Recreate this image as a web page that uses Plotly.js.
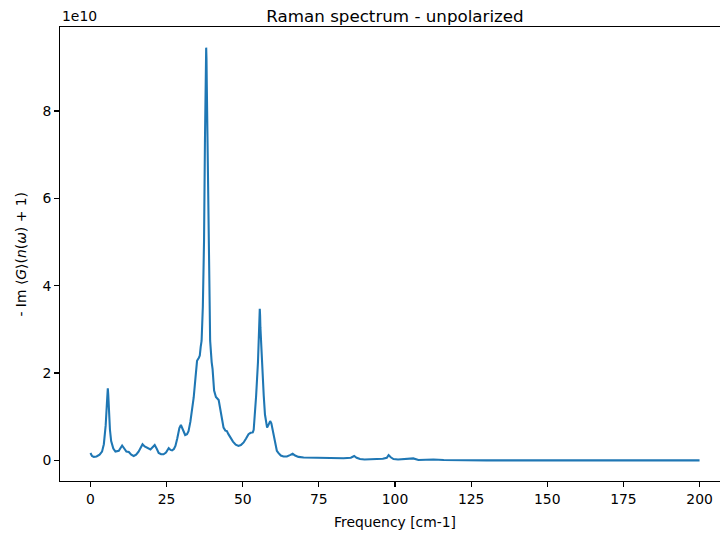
<!DOCTYPE html>
<html>
<head>
<meta charset="utf-8">
<script src="https://cdn.plot.ly/plotly-3.0.1.min.js"></script>
<style>
html, body { margin: 0; padding: 0; overflow: hidden; background: #fff; }
#chart { width: 745px; height: 537px; }
</style>
</head>
<body>
<div id="chart"></div>
<script>
// Frequency [cm-1]
const freq = [
  0, 0.5, 1.1, 2.0, 3.0, 3.8, 4.4, 5.0, 5.4, 5.55, 5.7, 5.85, 6.0, 6.4, 6.8, 7.5, 8.2, 9.3,
  10.4, 11.2, 11.8, 12.6, 13.4, 14.2, 15.0, 15.8, 16.5, 17.1, 17.8, 18.6, 19.7,
  20.4, 21.1, 21.8, 22.4, 23.2, 24.0, 24.8, 25.7, 26.3, 26.8, 27.4, 27.9, 28.5,
  29.2, 29.7, 30.3, 31.1, 31.7, 32.2, 32.8, 33.4, 33.9, 34.5, 35.0, 35.6, 35.9,
  36.2, 36.5, 36.9, 37.1, 37.3, 37.6, 37.8, 37.9, 38.0, 38.1, 38.2, 38.4, 38.7, 38.85, 39.0, 39.3, 39.8,
  40.1, 40.6, 41.2, 42.1, 42.8, 43.7, 44.3, 44.8, 45.3, 45.9, 46.8, 47.7, 48.6,
  49.4, 50.3, 51.1, 51.9, 52.6, 53.3, 53.6, 53.9, 54.4, 55.0, 55.2, 55.4, 55.5, 55.6, 55.7, 55.8, 56.0,
  56.3, 56.9, 57.3, 57.6, 58.0, 58.5, 59.0, 59.4, 60.1, 60.7, 61.2, 61.7, 62.5,
  63.4, 64.5, 65.5, 66.4, 67.2, 68.3, 70, 72.1, 76, 80, 83.1, 85.5, 86.6, 87.4,
  88.5, 90, 93, 96, 97.3, 97.9, 98.6, 99.5, 101, 104, 106, 107.7, 110, 112.6,
  116, 121, 130, 150, 175, 200
];
// - Im <G>(n(w)+1), in units of 1e10
const intensity = [
  0.17, 0.10, 0.08, 0.09, 0.13, 0.20, 0.37, 0.80, 1.30, 1.55, 1.65, 1.50, 1.20, 0.70, 0.44, 0.27, 0.20, 0.22,
  0.34, 0.24, 0.20, 0.19, 0.13, 0.10, 0.13, 0.20, 0.31, 0.37, 0.32, 0.29, 0.25,
  0.30, 0.35, 0.26, 0.17, 0.14, 0.14, 0.18, 0.28, 0.24, 0.23, 0.26, 0.33, 0.50,
  0.74, 0.81, 0.70, 0.58, 0.60, 0.67, 0.88, 1.15, 1.44, 1.90, 2.28, 2.35, 2.40,
  2.60, 2.74, 3.51, 4.15, 5.04, 7.34, 8.60, 9.20, 9.45, 9.20, 8.60, 7.34, 5.04, 4.15, 3.51, 2.74, 2.25,
  2.09, 1.60, 1.45, 1.38, 1.10, 0.75, 0.68, 0.67, 0.60, 0.53, 0.43, 0.36, 0.33,
  0.35, 0.41, 0.50, 0.60, 0.63, 0.64, 0.70, 0.94, 1.48, 2.24, 2.62, 3.05, 3.32, 3.47, 3.32, 3.05, 2.70,
  2.24, 1.48, 1.05, 0.92, 0.75, 0.82, 0.90, 0.85, 0.60, 0.35, 0.22, 0.17, 0.11,
  0.09, 0.09, 0.12, 0.15, 0.11, 0.08, 0.065, 0.06, 0.06, 0.055, 0.05, 0.06, 0.10, 0.06,
  0.03, 0.02, 0.03, 0.035, 0.06, 0.12, 0.07, 0.03, 0.02, 0.025, 0.045, 0.01, 0.015, 0.02,
  0.01, 0.002, 0.0, 0.0, 0.0, 0.0
];
const yTicks = [0, 2, 4, 6, 8];
const xTicks = [0, 25, 50, 75, 100, 125, 150, 175, 200];

const FONT = "DejaVu Sans, Liberation Sans, sans-serif";
const L = 59.5, R = 730.5, T = 27, B = 481, W = 745, H = 537;

const trace = {
  x: freq, y: intensity, type: 'scatter', mode: 'lines',
  line: { color: '#1f77b4', width: 2.08 },
  hoverinfo: 'skip'
};

const layout = {
  width: W, height: H,
  margin: { l: L, r: W - R, t: T, b: H - B, pad: 0 },
  paper_bgcolor: '#ffffff', plot_bgcolor: '#ffffff',
  showlegend: false,
  font: { family: FONT, size: 13.9, color: '#000' },
  title: {
    text: 'Raman spectrum - unpolarized',
    font: { family: FONT, size: 16.7, color: '#000' },
    x: 0.5, xref: 'paper', xanchor: 'center',
    y: 1, yref: 'paper', yanchor: 'bottom',
    pad: { b: 5 }
  },
  xaxis: {
    range: [-10, 210], tickvals: xTicks, ticktext: xTicks.map(String),
    showgrid: false, zeroline: false,
    showline: true, mirror: true, linecolor: '#000', linewidth: 1.1,
    ticks: 'outside', ticklen: 4.9, tickwidth: 1.1, tickcolor: '#000',
    tickfont: { family: FONT, size: 13.9, color: '#000' }
  },
  yaxis: {
    range: [-0.4725, 9.9225], tickvals: yTicks, ticktext: yTicks.map(String),
    showgrid: false, zeroline: false,
    showline: true, mirror: true, linecolor: '#000', linewidth: 1.1,
    ticks: 'outside', ticklen: 4.9, tickwidth: 1.1, tickcolor: '#000',
    tickfont: { family: FONT, size: 13.9, color: '#000' }
  },
  annotations: [
    {
      text: '1e10', xref: 'paper', yref: 'paper', x: 0, y: 1,
      xanchor: 'left', yanchor: 'bottom', yshift: 1, showarrow: false,
      font: { family: FONT, size: 13.9, color: '#000' }
    },
    {
      text: 'Frequency [cm-1]', xref: 'paper', yref: 'paper',
      x: 0.5, y: (B - 522) / (B - T), xanchor: 'center', yanchor: 'middle',
      showarrow: false, font: { family: FONT, size: 13.9, color: '#000' }
    },
    {
      text: '- Im ⟨<i>G</i>⟩(<i>n</i>(<i>ω</i>) + 1)', xref: 'paper', yref: 'paper',
      x: (20 - L) / (R - L), y: 0.5, xanchor: 'center', yanchor: 'middle',
      textangle: -90, showarrow: false,
      font: { family: FONT, size: 13.9, color: '#000' }
    }
  ]
};

Plotly.newPlot('chart', [trace], layout, { staticPlot: true, displayModeBar: false });
</script>
</body>
</html>
